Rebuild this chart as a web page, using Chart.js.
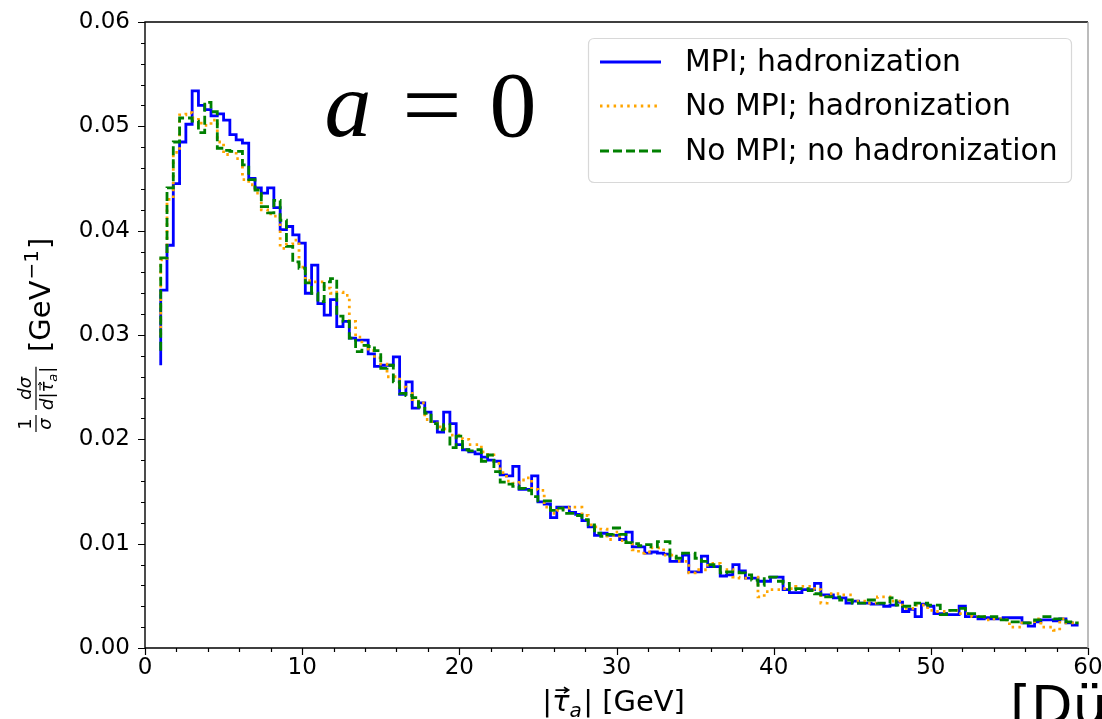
<!DOCTYPE html>
<html>
<head>
<title>tau_a distribution, a = 0</title>
<style>
  html, body { margin: 0; padding: 0; background: #fff; }
</style>
</head>
<body>
<canvas id="tauCanvas" width="1102" height="719"></canvas>

<script src="https://cdn.jsdelivr.net/npm/chart.js@4.4.1/dist/chart.umd.min.js"></script>
<script>
// bins: 0.4 GeV wide, first edge at 1 GeV
var binStart = 1.0;
var binWidth = 0.4;

var xTicks = [0, 10, 20, 30, 40, 50, 60];
var yTicks = [0, 0.01, 0.02, 0.03, 0.04, 0.05, 0.06];

var seriesNames = ["MPI; hadronization", "No MPI; hadronization", "No MPI; no hadronization"];

// value drawn at the left edge of the first bin (matplotlib step 'pre')
var startValues = [0.0271, 0.0300, 0.0285];

var mpiHad = [
  0.0343, 0.0386, 0.0445, 0.0485, 0.0502, 0.0534, 0.0520, 0.0516, 0.0510, 0.0512,
  0.0506, 0.0492, 0.0487, 0.0484, 0.0450, 0.0441, 0.0436, 0.0441, 0.0422, 0.0401,
  0.0404, 0.0396, 0.0388, 0.0340, 0.0367, 0.0330, 0.0319, 0.0334, 0.0308, 0.0313,
  0.0297, 0.0295, 0.0295, 0.0282, 0.0270, 0.0271, 0.0271, 0.0279, 0.0243, 0.0255,
  0.0230, 0.0235, 0.0226, 0.0217, 0.0207, 0.0226, 0.0215, 0.0195, 0.0190, 0.0188,
  0.0186, 0.0183, 0.0180, 0.0179, 0.0166, 0.0165, 0.0174, 0.0152, 0.0152, 0.0165,
  0.0140, 0.0138, 0.0125, 0.0135, 0.0135, 0.0130, 0.0128, 0.0122, 0.0116, 0.0108,
  0.0110, 0.0108, 0.0108, 0.0104, 0.0111, 0.0097, 0.0097, 0.0091, 0.0092, 0.0091,
  0.0090, 0.0083, 0.0083, 0.0089, 0.0073, 0.0073, 0.0088, 0.0078, 0.0078, 0.0069,
  0.0070, 0.0080, 0.0074, 0.0067, 0.0067, 0.0064, 0.0064, 0.0068, 0.0068, 0.0056,
  0.0053, 0.0053, 0.0056, 0.0056, 0.0062, 0.0051, 0.0051, 0.0048, 0.0048, 0.0043,
  0.0045, 0.0043, 0.0043, 0.0042, 0.0042, 0.0040, 0.0041, 0.0044, 0.0035, 0.0037,
  0.0030, 0.0042, 0.0040, 0.0033, 0.0033, 0.0032, 0.0032, 0.0040, 0.0030, 0.0030,
  0.0028, 0.0029, 0.0028, 0.0028, 0.0029, 0.0029, 0.0029, 0.0024, 0.0021, 0.0025,
  0.0027, 0.0027, 0.0026, 0.0028, 0.0024, 0.0022
];

var noMpiHad = [
  0.0372, 0.0430, 0.0475, 0.0511, 0.0513, 0.0508, 0.0503, 0.0501, 0.0506, 0.0485,
  0.0473, 0.0476, 0.0469, 0.0449, 0.0444, 0.0436, 0.0420, 0.0416, 0.0414, 0.0383,
  0.0387, 0.0391, 0.0365, 0.0352, 0.0351, 0.0351, 0.0345, 0.0340, 0.0341, 0.0338,
  0.0313, 0.0298, 0.0290, 0.0285, 0.0278, 0.0272, 0.0260, 0.0260, 0.0250, 0.0244,
  0.0238, 0.0235, 0.0219, 0.0217, 0.0212, 0.0210, 0.0204, 0.0204, 0.0200, 0.0195,
  0.0195, 0.0188, 0.0185, 0.0177, 0.0168, 0.0160, 0.0158, 0.0161, 0.0163, 0.0152,
  0.0151, 0.0135, 0.0129, 0.0132, 0.0134, 0.0135, 0.0135, 0.0127, 0.0118, 0.0116,
  0.0114, 0.0104, 0.0111, 0.0103, 0.0101, 0.0094, 0.0091, 0.0092, 0.0096, 0.0096,
  0.0089, 0.0089, 0.0083, 0.0083, 0.0072, 0.0075, 0.0075, 0.0081, 0.0081, 0.0075,
  0.0075, 0.0068, 0.0067, 0.0067, 0.0068, 0.0049, 0.0054, 0.0056, 0.0056, 0.0057,
  0.0057, 0.0059, 0.0059, 0.0059, 0.0056, 0.0043, 0.0052, 0.0052, 0.0051, 0.0051,
  0.0045, 0.0045, 0.0043, 0.0043, 0.0049, 0.0049, 0.0045, 0.0045, 0.0038, 0.0038,
  0.0041, 0.0041, 0.0036, 0.0035, 0.0035, 0.0036, 0.0036, 0.0033, 0.0033, 0.0030,
  0.0030, 0.0027, 0.0028, 0.0028, 0.0027, 0.0020, 0.0020, 0.0024, 0.0024, 0.0028,
  0.0020, 0.0020, 0.0017, 0.0028, 0.0024, 0.0024
];

var noMpiNoHad = [
  0.0374, 0.0441, 0.0485, 0.0508, 0.0508, 0.0505, 0.0494, 0.0523, 0.0514, 0.0479,
  0.0477, 0.0476, 0.0476, 0.0463, 0.0449, 0.0439, 0.0423, 0.0417, 0.0429, 0.0410,
  0.0385, 0.0370, 0.0364, 0.0350, 0.0340, 0.0332, 0.0351, 0.0354, 0.0318, 0.0313,
  0.0297, 0.0284, 0.0290, 0.0289, 0.0285, 0.0268, 0.0271, 0.0255, 0.0244, 0.0242,
  0.0240, 0.0231, 0.0225, 0.0215, 0.0209, 0.0214, 0.0192, 0.0203, 0.0190, 0.0189,
  0.0190, 0.0179, 0.0185, 0.0169, 0.0159, 0.0157, 0.0155, 0.0153, 0.0151, 0.0145,
  0.0141, 0.0141, 0.0132, 0.0134, 0.0129, 0.0129, 0.0127, 0.0123, 0.0118, 0.0110,
  0.0107, 0.0109, 0.0115, 0.0109, 0.0101, 0.0100, 0.0098, 0.0099, 0.0097, 0.0102,
  0.0102, 0.0088, 0.0086, 0.0091, 0.0091, 0.0086, 0.0083, 0.0080, 0.0078, 0.0072,
  0.0073, 0.0073, 0.0072, 0.0070, 0.0065, 0.0060, 0.0068, 0.0068, 0.0064, 0.0062,
  0.0056, 0.0057, 0.0057, 0.0055, 0.0052, 0.0049, 0.0049, 0.0049, 0.0046, 0.0046,
  0.0043, 0.0043, 0.0046, 0.0046, 0.0043, 0.0043, 0.0048, 0.0041, 0.0040, 0.0040,
  0.0043, 0.0043, 0.0041, 0.0041, 0.0032, 0.0036, 0.0036, 0.0038, 0.0033, 0.0033,
  0.0030, 0.0030, 0.0030, 0.0027, 0.0027, 0.0025, 0.0025, 0.0024, 0.0024, 0.0027,
  0.0030, 0.0030, 0.0028, 0.0028, 0.0025, 0.0024
];

var colors = ["#0000ff", "#ffa500", "#008000"];
var dashes = [[], [2.5, 4.3], [9, 4]];

// one point per right bin edge, plus the opening point at the first edge
function stepPoints(start, vals) {
    var pts = [{x: binStart, y: start}];
    vals.forEach(function(v, i) {
        pts.push({x: binStart + binWidth * (i + 1), y: v});
    });
    return pts;
}

var allSeries = [mpiHad, noMpiHad, noMpiNoHad];
var datasets = allSeries.map(function(vals, i) {
    return {
        label: seriesNames[i],
        data: stepPoints(startValues[i], vals),
        borderColor: colors[i],
        borderWidth: 2.8,
        borderDash: dashes[i],
        stepped: "after",
        pointRadius: 0,
        fill: false,
        order: 3 - i
    };
});

var FONT = '"DejaVu Sans", sans-serif';

function roundRect(ctx, x, y, w, h, r) {
    ctx.beginPath();
    ctx.moveTo(x + r, y);
    ctx.lineTo(x + w - r, y);
    ctx.quadraticCurveTo(x + w, y, x + w, y + r);
    ctx.lineTo(x + w, y + h - r);
    ctx.quadraticCurveTo(x + w, y + h, x + w - r, y + h);
    ctx.lineTo(x + r, y + h);
    ctx.quadraticCurveTo(x, y + h, x, y + h - r);
    ctx.lineTo(x, y + r);
    ctx.quadraticCurveTo(x, y, x + r, y);
    ctx.closePath();
}

function drawVecTau(ctx, x, baseline, size) {
    // italic tau with a small arrow above, returns advance
    ctx.font = "italic " + size + "px " + FONT;
    ctx.textAlign = "left";
    ctx.fillText("\u03c4", x, baseline);
    var w = ctx.measureText("\u03c4").width;
    var ay = baseline - size * 0.72;
    var ax0 = x + w * 0.2, ax1 = x + w * 0.95;
    ctx.lineWidth = Math.max(1, size / 18);
    ctx.beginPath();
    ctx.moveTo(ax0, ay);
    ctx.lineTo(ax1, ay);
    ctx.moveTo(ax1 - size * 0.16, ay - size * 0.1);
    ctx.lineTo(ax1, ay);
    ctx.lineTo(ax1 - size * 0.16, ay + size * 0.1);
    ctx.stroke();
    return w;
}

function drawAbsTau(ctx, x, baseline, size) {
    // |tau_a| ; returns total width
    var cx = x;
    ctx.textAlign = "left";
    ctx.font = size + "px " + FONT;
    ctx.fillText("|", cx, baseline);
    cx += ctx.measureText("|").width;
    cx += drawVecTau(ctx, cx, baseline, size);
    ctx.font = "italic " + Math.round(size * 0.7) + "px " + FONT;
    ctx.fillText("a", cx, baseline + size * 0.2);
    cx += ctx.measureText("a").width + size * 0.05;
    ctx.font = size + "px " + FONT;
    ctx.fillText("|", cx, baseline);
    cx += ctx.measureText("|").width;
    return cx - x;
}

var decorPlugin = {
    id: "decor",
    afterDatasetsDraw: function(chart) {
        var ctx = chart.ctx, area = chart.chartArea;
        var xs = chart.scales.x, ys = chart.scales.y;
        ctx.save();

        // axes frame
        ctx.lineWidth = 1.4;
        ctx.strokeStyle = "#000";
        ctx.beginPath();
        ctx.moveTo(area.right, area.top);
        ctx.lineTo(area.left, area.top);
        ctx.lineTo(area.left, area.bottom);
        ctx.lineTo(area.right, area.bottom);
        ctx.stroke();
        ctx.strokeStyle = "#a0a0a0";
        ctx.beginPath();
        ctx.moveTo(area.right, area.top);
        ctx.lineTo(area.right, area.bottom);
        ctx.stroke();

        // tick marks, major and minor
        ctx.strokeStyle = "#000";
        ctx.lineWidth = 1.2;
        ctx.beginPath();
        for (var v = 0; v <= 60; v += 2) {
            var px = Math.round(xs.getPixelForValue(v)) + 0.5;
            var len = (v % 10 === 0) ? 7 : 4;
            ctx.moveTo(px, area.bottom);
            ctx.lineTo(px, area.bottom + len);
        }
        for (var k = 0; k <= 30; k++) {
            var py = Math.round(ys.getPixelForValue(k * 0.002)) + 0.5;
            var ylen = (k % 5 === 0) ? 7 : 4;
            ctx.moveTo(area.left, py);
            ctx.lineTo(area.left - ylen, py);
        }
        ctx.stroke();
        ctx.restore();
    },
    afterDraw: function(chart) {
        var ctx = chart.ctx, area = chart.chartArea;
        ctx.save();
        ctx.fillStyle = "#000";
        ctx.strokeStyle = "#000";
        ctx.textBaseline = "alphabetic";

        // legend
        roundRect(ctx, 588.5, 38.5, 483, 144, 6);
        ctx.fillStyle = "rgba(255,255,255,0.85)";
        ctx.fill();
        ctx.strokeStyle = "#d8d8d8";
        ctx.lineWidth = 1.2;
        ctx.stroke();
        var rows = [62, 106, 151];
        for (var i = 0; i < 3; i++) {
            ctx.strokeStyle = colors[i];
            ctx.lineWidth = 2.8;
            ctx.setLineDash(dashes[i]);
            ctx.beginPath();
            ctx.moveTo(600, rows[i]);
            ctx.lineTo(661, rows[i]);
            ctx.stroke();
            ctx.setLineDash([]);
            ctx.fillStyle = "#000";
            ctx.font = "29.8px " + FONT;
            ctx.textAlign = "left";
            ctx.textBaseline = "middle";
            ctx.fillText(seriesNames[i], 685, rows[i] + 1.5);
        }
        ctx.textBaseline = "alphabetic";

        // a = 0 label
        ctx.fillStyle = "#000";
        ctx.font = 'italic 94px "Liberation Serif", serif';
        ctx.textAlign = "center";
        ctx.fillText("a", 348, 136);
        ctx.font = '94px "Liberation Serif", serif';
        ctx.save();
        ctx.translate(432, 0);
        ctx.scale(1.13, 1);
        ctx.fillText("=", 0, 136);
        ctx.restore();
        ctx.fillText("0", 513, 136);

        // x axis title
        var size = 29;
        ctx.strokeStyle = "#000";
        var absW = 0;
        ctx.font = size + "px " + FONT;
        var restW = ctx.measureText(" [GeV]").width;
        var estAbs = size * 1.95;
        var x0 = (area.left + area.right) / 2 - (estAbs + restW) / 2;
        absW = drawAbsTau(ctx, x0, 711, size);
        ctx.font = size + "px " + FONT;
        ctx.textAlign = "left";
        ctx.fillText(" [GeV]", x0 + absW, 711);

        // y axis title, rotated
        ctx.save();
        ctx.translate(50, (area.top + area.bottom) / 2);
        ctx.rotate(-Math.PI / 2);
        var fs = 18;
        var cx = -98;
        // 1 / sigma
        ctx.font = fs + "px " + FONT;
        ctx.textAlign = "center";
        ctx.fillText("1", cx + 9, -19);
        ctx.font = "italic " + fs + "px " + FONT;
        ctx.fillText("\u03c3", cx + 9, 1);
        ctx.lineWidth = 1.2;
        ctx.beginPath();
        ctx.moveTo(cx + 1, -14);
        ctx.lineTo(cx + 18, -14);
        ctx.stroke();
        cx += 23;
        // d sigma / d |tau_a|
        ctx.textAlign = "left";
        ctx.font = "italic " + fs + "px " + FONT;
        var denW = drawAbsTau(ctx, 0, -1000, fs);
        ctx.font = "italic " + fs + "px " + FONT;
        var dW = ctx.measureText("d").width;
        var fracW = dW + denW;
        var numW = ctx.measureText("d\u03c3").width;
        ctx.fillText("d\u03c3", cx + (fracW - numW) / 2, -19);
        ctx.fillText("d", cx, 3);
        drawAbsTau(ctx, cx + dW, 3, fs);
        ctx.lineWidth = 1.2;
        ctx.beginPath();
        ctx.moveTo(cx, -14);
        ctx.lineTo(cx + fracW, -14);
        ctx.stroke();
        // [GeV^-1]
        var ts = 29;
        var gx = -17;
        ctx.font = ts + "px " + FONT;
        ctx.textAlign = "left";
        ctx.fillText("[GeV", gx, 0);
        gx += ctx.measureText("[GeV").width;
        ctx.font = Math.round(ts * 0.7) + "px " + FONT;
        ctx.fillText("\u22121", gx + 1, -12);
        gx += ctx.measureText("\u22121").width + 2;
        ctx.font = ts + "px " + FONT;
        ctx.fillText("]", gx, 0);
        ctx.restore();

        // cut-off citation text at the bottom right
        ctx.font = "54px " + FONT;
        ctx.textAlign = "left";
        ctx.fillStyle = "#000";
        ctx.fillText("[D\u00fc", 1010, 724);

        ctx.restore();
    }
};

var ctx = document.getElementById("tauCanvas").getContext("2d");
var chart = new Chart(ctx, {
    type: "line",
    data: { datasets: datasets },
    options: {
        responsive: false,
        animation: false,
        devicePixelRatio: 1,
        layout: { padding: { top: 22, right: 14, left: 0, bottom: 0 } },
        plugins: {
            legend: { display: false },
            tooltip: { enabled: false }
        },
        scales: {
            x: {
                type: "linear",
                min: 0,
                max: 60,
                afterBuildTicks: function(s) { s.ticks = xTicks.map(function(v) { return {value: v}; }); },
                afterFit: function(s) { s.height = 71; s.paddingLeft = 0; s.paddingRight = 0; },
                grid: { display: false, drawTicks: false },
                border: { display: false },
                ticks: {
                    color: "#000",
                    font: { family: "DejaVu Sans", size: 23 },
                    padding: 6,
                    maxRotation: 0,
                    autoSkip: false
                }
            },
            y: {
                type: "linear",
                min: 0,
                max: 0.06,
                afterBuildTicks: function(s) { s.ticks = yTicks.map(function(v) { return {value: v}; }); },
                afterFit: function(s) { s.width = 145; s.paddingTop = 0; s.paddingBottom = 0; },
                grid: { display: false, drawTicks: false },
                border: { display: false },
                ticks: {
                    color: "#000",
                    font: { family: "DejaVu Sans", size: 23 },
                    padding: 15,
                    callback: function(v) { return v.toFixed(2); }
                }
            }
        }
    },
    plugins: [decorPlugin]
});
</script>
</body>
</html>
